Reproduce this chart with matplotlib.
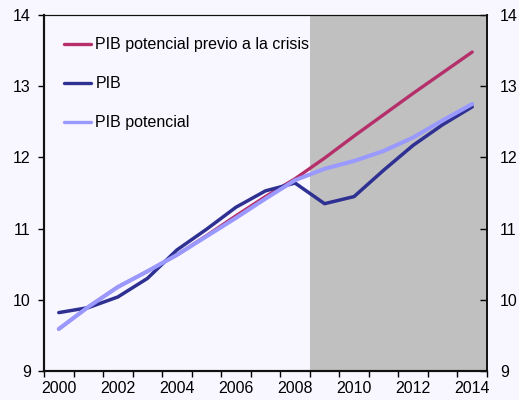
import matplotlib
matplotlib.use("Agg")
import matplotlib.pyplot as plt
import numpy as np

plt.rcParams['font.family'] = ['Liberation Sans', 'DejaVu Sans']

# data
years = [2000, 2001, 2002, 2003, 2004, 2005, 2006, 2007,
         2008, 2009, 2010, 2011, 2012, 2013, 2014]
pib = [9.82, 9.89, 10.04, 10.30, 10.70, 10.99, 11.30, 11.53,
       11.64, 11.35, 11.45, 11.82, 12.17, 12.46, 12.71]
pib_potencial = [9.59, 9.90, 10.18, 10.40, 10.63, 10.89, 11.15, 11.42,
                 11.68, 11.84, 11.95, 12.09, 12.28, 12.52, 12.75]
pib_previo = [9.59, 9.90, 10.18, 10.40, 10.63, 10.90, 11.18, 11.45,
              11.70, 11.99, 12.30, 12.60, 12.90, 13.19, 13.48]
crisis_start = 2008.5
year_labels = [2000, 2002, 2004, 2006, 2008, 2010, 2012, 2014]

fs = 11.5
bg = '#F8F6FF'
fig = plt.figure(figsize=(5.19, 4.0), dpi=100, facecolor=bg)
ax = fig.add_axes([0.0848, 0.0725, 0.8535, 0.89])
ax.set_facecolor(bg)

# shaded period after the crisis
ax.axvspan(crisis_start, years[-1] + 0.5, color='#C0C0C0', lw=0, zorder=0)

ax.plot(years, pib_previo, color='#B5306A', lw=2.4, solid_capstyle='round',
        label='PIB potencial previo a la crisis', zorder=2)
ax.plot(years, pib, color='#2E3192', lw=2.5, solid_capstyle='round',
        label='PIB', zorder=3)
ax.plot(years, pib_potencial, color='#9999FF', lw=2.9, solid_capstyle='round',
        label='PIB potencial', zorder=4)

ax.set_xlim(years[0] - 0.5, years[-1] + 0.5)
ax.set_ylim(9, 14)

# tick marks between the years, labels on the years
ax.set_xticks(np.arange(years[0] - 0.5, years[-1] + 1, 1.0))
ax.set_xticklabels([])
ax.set_xticks(year_labels, minor=True)
ax.set_xticklabels([str(y) for y in year_labels], minor=True, fontsize=fs)
ax.tick_params(axis='x', which='major', direction='out', length=4, width=1)
ax.tick_params(axis='x', which='minor', length=0, pad=7.5)

ax.set_yticks(range(9, 15))
ax.tick_params(axis='y', which='major', direction='out', length=4, width=1,
               labelsize=fs, pad=5.5, right=False)

ax2 = ax.twinx()
ax2.set_ylim(9, 14)
ax2.set_yticks(range(9, 15))
ax2.tick_params(axis='y', direction='in', length=5, width=1, labelsize=fs, pad=9.5)

for a in (ax, ax2):
    for s in a.spines.values():
        s.set_color('#111111')
    a.spines['left'].set_linewidth(1.5)
    a.spines['bottom'].set_linewidth(1.5)
    a.spines['right'].set_linewidth(1.2)
    a.spines['top'].set_linewidth(0.8)

leg = ax2.legend(*ax.get_legend_handles_labels(), loc='upper left',
                 bbox_to_anchor=(0.031, 0.955), frameon=False, fontsize=fs,
                 handlelength=1.7, handletextpad=0.25, labelspacing=1.5,
                 borderaxespad=0)
for line in leg.get_lines():
    line.set_linewidth(2.4)

fig.savefig('out.png', dpi=100, facecolor=bg)
